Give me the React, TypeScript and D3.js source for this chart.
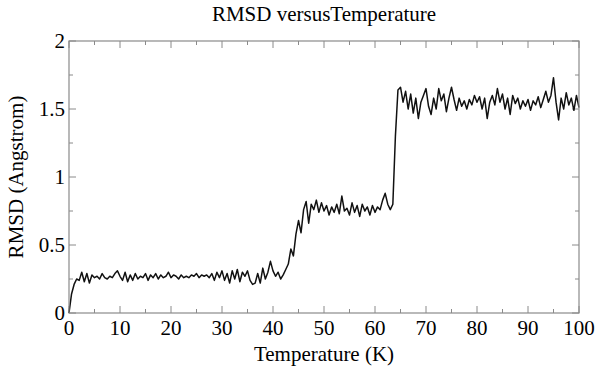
import React from 'react';
import * as d3 from 'd3';

const tStep = 0.5;
const rmsd = [
  // 0 - 10
  0.00, 0.14, 0.21, 0.25, 0.24, 0.30, 0.23, 0.29, 0.22, 0.28, 0.26,
  0.27, 0.25, 0.29, 0.26, 0.25, 0.27, 0.26, 0.29, 0.31, 0.27,
  // 10.5 - 20
  0.24, 0.30, 0.23, 0.28, 0.24, 0.29, 0.25, 0.27, 0.26, 0.29,
  0.24, 0.28, 0.26, 0.29, 0.25, 0.28, 0.26, 0.27, 0.30, 0.26,
  // 20.5 - 30
  0.28, 0.27, 0.25, 0.28, 0.26, 0.27, 0.26, 0.28, 0.27, 0.29,
  0.26, 0.28, 0.27, 0.28, 0.26, 0.29, 0.24, 0.30, 0.26, 0.31,
  // 30.5 - 40
  0.24, 0.29, 0.22, 0.31, 0.25, 0.32, 0.23, 0.30, 0.27, 0.31,
  0.24, 0.21, 0.22, 0.29, 0.22, 0.33, 0.25, 0.30, 0.38, 0.31,
  // 40.5 - 50
  0.27, 0.30, 0.25, 0.28, 0.32, 0.36, 0.47, 0.42, 0.58, 0.68,
  0.59, 0.76, 0.82, 0.66, 0.80, 0.76, 0.83, 0.74, 0.81, 0.75,
  // 50.5 - 60
  0.79, 0.72, 0.78, 0.74, 0.80, 0.73, 0.86, 0.75, 0.77, 0.72,
  0.81, 0.74, 0.79, 0.71, 0.80, 0.75, 0.78, 0.72, 0.79, 0.74,
  // 60.5 - 70
  0.78, 0.76, 0.83, 0.88, 0.80, 0.76, 0.80, 1.30, 1.64, 1.66,
  1.55, 1.63, 1.50, 1.61, 1.47, 1.58, 1.43, 1.55, 1.60, 1.65,
  // 70.5 - 80
  1.52, 1.46, 1.58, 1.50, 1.65, 1.56, 1.61, 1.48, 1.58, 1.66,
  1.57, 1.49, 1.58, 1.52, 1.56, 1.50, 1.57, 1.53, 1.60, 1.55,
  // 80.5 - 90
  1.59, 1.50, 1.58, 1.43, 1.55, 1.60, 1.53, 1.65, 1.55, 1.61,
  1.50, 1.58, 1.46, 1.60, 1.54, 1.58, 1.50, 1.56, 1.52, 1.57,
  // 90.5 - 100
  1.49, 1.56, 1.53, 1.59, 1.51, 1.57, 1.63, 1.55, 1.60, 1.73,
  1.55, 1.42, 1.58, 1.50, 1.62, 1.53, 1.58, 1.49, 1.60, 1.51,
];

const xMajor = [0, 10, 20, 30, 40, 50, 60, 70, 80, 90, 100];
const xMinor = [5, 15, 25, 35, 45, 55, 65, 75, 85, 95];
const yMajor = [0, 0.5, 1, 1.5, 2];
const yMinor = [0.25, 0.75, 1.25, 1.75];

const width = 595;
const height = 372;
const left = 69;
const right = 579;
const top = 41;
const bottom = 313;
const frameColor = '#8a8a8a';

const App: React.FC = () => {
  const x = d3.scaleLinear().domain([0, 100]).range([left, right]);
  const y = d3.scaleLinear().domain([0, 2]).range([bottom, top]);

  const points: [number, number][] = rmsd.map((v, i) => [i * tStep, v]);
  const line = d3.line<[number, number]>()
    .x(d => x(d[0]))
    .y(d => y(d[1]));

  const major = 7;
  const minor = 4;

  return (
    <svg width={width} height={height}
      style={{ position: 'absolute', left: 0, top: 0, background: '#fff',
        fontFamily: "'Liberation Serif', 'Times New Roman', serif" }}>
      <text x={(left + right) / 2} y={21} textAnchor="middle" fontSize={21}>
        RMSD versusTemperature
      </text>

      {/* ticks, mirrored on all sides */}
      <g stroke={frameColor} strokeWidth={1}>
        {xMajor.concat(xMinor).map(t => {
          const len = xMajor.includes(t) ? major : minor;
          return (
            <g key={'x' + t}>
              <line x1={x(t)} x2={x(t)} y1={bottom} y2={bottom - len} />
              <line x1={x(t)} x2={x(t)} y1={top} y2={top + len} />
            </g>
          );
        })}
        {yMajor.concat(yMinor).map(t => {
          const len = yMajor.includes(t) ? major : minor;
          return (
            <g key={'y' + t}>
              <line x1={left} x2={left + len} y1={y(t)} y2={y(t)} />
              <line x1={right} x2={right - len} y1={y(t)} y2={y(t)} />
            </g>
          );
        })}
      </g>

      <path d={line(points) || ''} fill="none" stroke="#111" strokeWidth={1.5}
        strokeLinejoin="round" />

      <rect x={left} y={top} width={right - left} height={bottom - top}
        fill="none" stroke={frameColor} strokeWidth={1.2} />

      {/* tick labels */}
      <g fontSize={21} fill="#000">
        {xMajor.map(t => (
          <text key={'xl' + t} x={x(t)} y={bottom + 22} textAnchor="middle">{t}</text>
        ))}
        {yMajor.map(t => (
          <text key={'yl' + t} x={left - 4} y={y(t) + 7} textAnchor="end">{t}</text>
        ))}
      </g>

      <text x={(left + right) / 2} y={bottom + 48} textAnchor="middle" fontSize={21}>
        Temperature (K)
      </text>
      <text transform={`translate(23,${(top + bottom) / 2}) rotate(-90)`}
        textAnchor="middle" fontSize={21}>
        RMSD (Angstrom)
      </text>
    </svg>
  );
};

export default App;
